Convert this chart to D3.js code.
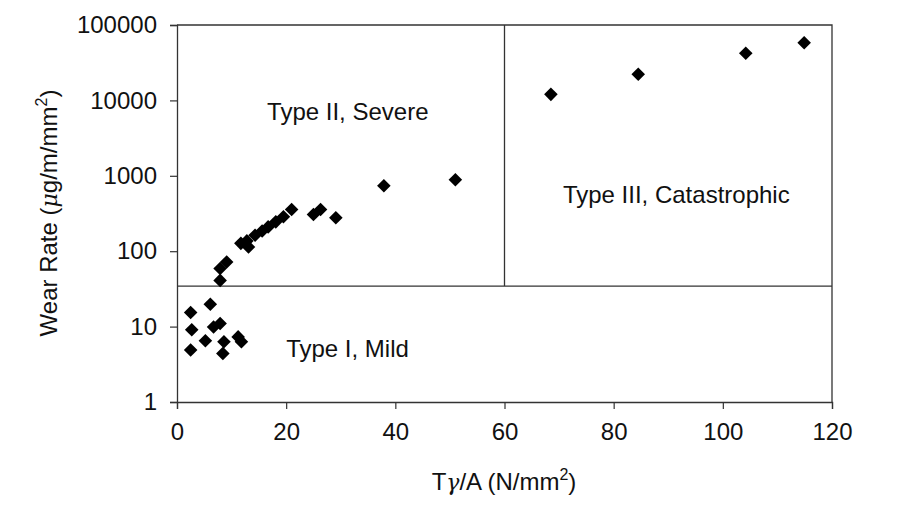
<!DOCTYPE html>
<html><head><meta charset="utf-8">
<script src="https://cdn.jsdelivr.net/npm/d3@7"></script>
<style>
html,body{margin:0;padding:0;background:#fff;}
text{font-family:"Liberation Sans",Arial,sans-serif;fill:#111;}
</style></head>
<body><svg id="chart" width="906" height="515"></svg>
<script>
// Data (Tγ/A in N/mm², wear rate in µg/m/mm²)
const xValues = [2.5, 6.1, 2.7, 5.2, 6.7, 7.9, 8.6, 11.2, 11.8, 2.5, 8.4,
                 7.9, 7.9, 9.1, 11.7, 12.8, 13.1, 14.3, 15.6, 16.7, 18.1, 19.5, 21.0, 25.0, 26.3, 29.1,
                 37.9, 51.0, 68.5, 84.5, 104.2, 114.9];
const yValues = [15.4, 19.8, 9.1, 6.5, 9.9, 11.0, 6.3, 7.3, 6.3, 4.9, 4.4,
                 41, 59, 72, 127, 137, 114, 163, 185, 210, 245, 286, 358, 307, 358, 277,
                 736, 885, 12030, 22170, 42100, 58200];
const xTicks = [0, 20, 40, 60, 80, 100, 120];
const yTicks = [1, 10, 100, 1000, 10000, 100000];
const boundaryWear = 34.5;   // horizontal divider (mild/severe)
const boundaryLoad = 60;     // vertical divider (severe/catastrophic)
const regionLabels = ["Type II, Severe", "Type III, Catastrophic", "Type I, Mild"];
const regionX = [16.5, 70.7, 20.0];
const regionY = [5480, 441, 3.92];

const W = 906, H = 515;
const m = {left: 177, top: 25, right: 74, bottom: 113};
const svg = d3.select("#chart");
const x = d3.scaleLinear().domain([0, 120]).range([m.left, W - m.right]);
const y = d3.scaleLog().domain([1, 100000]).range([H - m.bottom, m.top]);
const lineColor = "#333";

// frame top/right
svg.append("path")
  .attr("d", `M${x(0)},${y(100000)}H${x(120)}V${y(1)}`)
  .attr("fill", "none").attr("stroke", lineColor).attr("stroke-width", 1.3);

// axes
const xAxis = svg.append("g").attr("transform", `translate(0,${y(1)})`)
  .call(d3.axisBottom(x).tickValues(xTicks).tickSize(7).tickPadding(14).tickFormat(d3.format("d")));
const yAxis = svg.append("g").attr("transform", `translate(${x(0)},0)`)
  .call(d3.axisLeft(y).tickValues(yTicks).tickSize(7).tickPadding(13).tickFormat(d3.format("d")));
[xAxis, yAxis].forEach(g => {
  g.select(".domain").attr("stroke", lineColor).attr("stroke-width", 1.3);
  g.selectAll(".tick line").attr("stroke", lineColor).attr("stroke-width", 1.2);
  g.selectAll(".tick text").attr("font-size", 24).attr("fill", "#111")
    .style("font-family", '"Liberation Sans",Arial,sans-serif');
});

// region dividers
svg.append("line").attr("x1", x(0)).attr("x2", x(120))
  .attr("y1", y(boundaryWear)).attr("y2", y(boundaryWear))
  .attr("stroke", lineColor).attr("stroke-width", 1.3);
svg.append("line").attr("x1", x(boundaryLoad)).attr("x2", x(boundaryLoad))
  .attr("y1", y(100000)).attr("y2", y(boundaryWear))
  .attr("stroke", lineColor).attr("stroke-width", 1.3);

// region labels
svg.selectAll(".region").data(regionLabels).enter().append("text")
  .attr("x", (d, i) => x(regionX[i])).attr("y", (d, i) => y(regionY[i]))
  .attr("font-size", 24).text(d => d);

// points: diamonds
const diamond = d3.symbol().type(d3.symbolSquare).size(92);
svg.selectAll(".pt").data(xValues).enter().append("path")
  .attr("d", diamond)
  .attr("transform", (d, i) => `translate(${x(d)},${y(yValues[i])}) rotate(45)`)
  .attr("fill", "#000");

// axis titles
const xt = svg.append("text").attr("x", 504).attr("y", 490)
  .attr("text-anchor", "middle").attr("font-size", 24);
xt.append("tspan").text("T");
xt.append("tspan").style("font-family", '"DejaVu Serif",serif').attr("font-style", "italic").attr("font-size", 22).text("\u03B3");
xt.append("tspan").text("/A (N/mm");
xt.append("tspan").attr("font-size", 16).attr("dy", -10).text("2");
xt.append("tspan").attr("dy", 10).text(")");

const yt = svg.append("text")
  .attr("transform", `translate(57,213) rotate(-90)`)
  .attr("text-anchor", "middle").attr("font-size", 24);
yt.append("tspan").text("Wear Rate (");
yt.append("tspan").style("font-family", '"DejaVu Serif",serif').attr("font-style", "italic").attr("font-size", 22).text("\u03BC");
yt.append("tspan").text("g/m/mm");
yt.append("tspan").attr("font-size", 16).attr("dy", -10).text("2");
yt.append("tspan").attr("dy", 10).text(")");
</script></body></html>
